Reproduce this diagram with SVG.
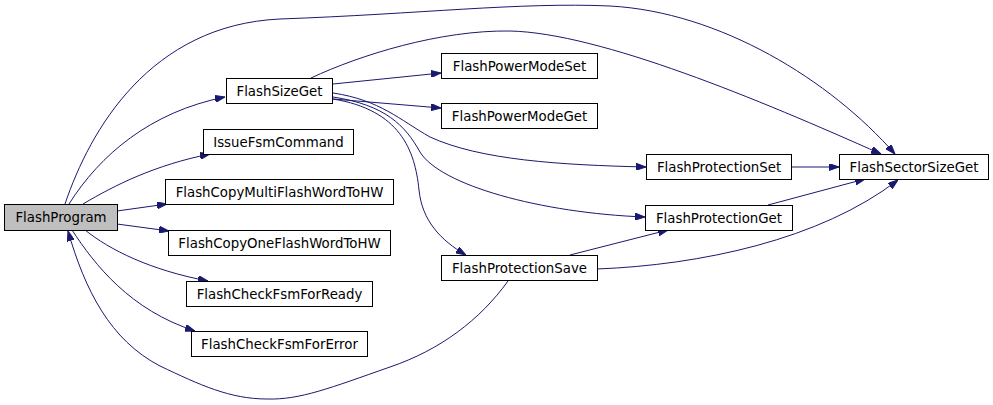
<svg xmlns="http://www.w3.org/2000/svg" width="993" height="405" viewBox="0 0 993 405">
<style>
.n rect{fill:#ffffff;stroke:#000000;stroke-width:1}
.n.cur rect{fill:#bfbfbf}
.n text{font-family:"DejaVu Sans","Liberation Sans",sans-serif;font-size:13.33px;fill:#000000;text-anchor:middle}
.e path{fill:none;stroke:#191970;stroke-width:1;marker-end:url(#ah)}
</style>
<defs>
<marker id="ah" viewBox="0 0 10 7" markerUnits="userSpaceOnUse" markerWidth="10" markerHeight="7" refX="10" refY="3.5" orient="auto">
<path d="M0,0 L10,3.5 L0,7 z" fill="#191970" stroke="#191970"/>
</marker>
</defs>
<rect width="993" height="405" fill="#ffffff"/>
<g id="edges" class="e">
<path d="M69,204 C100,155 150,112 225,97"/>
<path d="M83,204 C115,185 155,165 210,154"/>
<path d="M117,211 L167,204"/>
<path d="M117,224 L169,231"/>
<path d="M85,230 C110,250 150,270 208,281"/>
<path d="M72,230 C95,265 130,310 195,331"/>
<path d="M65,204 C90,130 150,25 280,19 C420,14 520,2 610,6 C720,12 830,80 895,154"/>
<path d="M311,78 C360,55 440,30 510,31 C600,33 760,100 881,154"/>
<path d="M333,84 L441,73"/>
<path d="M333,99 L441,108"/>
<path d="M333,93 C380,100 400,120 430,137 C480,160 560,165 646,167"/>
<path d="M333,97 C385,105 405,125 420,152 C440,185 540,213 645,217"/>
<path d="M333,99 C400,110 415,150 419,190 C422,220 440,240 466,255"/>
<path d="M791,167 L839,167"/>
<path d="M768,205 L865,179"/>
<path d="M570,255 L668,230"/>
<path d="M597,269 C700,265 820,240 898,180"/>
<path d="M508,281 C480,320 440,350 390,367 C330,388 300,400 267,399 C230,399 200,385 160,366 C110,340 85,290 68,231"/>
</g>
<g id="FlashProgram" class="n cur"><rect x="4.5" y="204.5" width="113" height="26"/><text x="61" y="222">FlashProgram</text></g>
<g id="FlashSizeGet" class="n"><rect x="226.5" y="78.5" width="106" height="25"/><text x="279.5" y="95.5">FlashSizeGet</text></g>
<g id="IssueFsmCommand" class="n"><rect x="203.5" y="129.5" width="150" height="25"/><text x="278.5" y="146.5">IssueFsmCommand</text></g>
<g id="FlashCopyMultiFlashWordToHW" class="n"><rect x="165.5" y="179.5" width="228" height="25"/><text x="279.5" y="196.5">FlashCopyMultiFlashWordToHW</text></g>
<g id="FlashCopyOneFlashWordToHW" class="n"><rect x="168.5" y="230.5" width="222" height="25"/><text x="279.5" y="247.5">FlashCopyOneFlashWordToHW</text></g>
<g id="FlashCheckFsmForReady" class="n"><rect x="186.5" y="281.5" width="186" height="25"/><text x="279.5" y="298.5">FlashCheckFsmForReady</text></g>
<g id="FlashCheckFsmForError" class="n"><rect x="191.5" y="331.5" width="176" height="25"/><text x="279.5" y="348.5">FlashCheckFsmForError</text></g>
<g id="FlashPowerModeSet" class="n"><rect x="441.5" y="53.5" width="156" height="25"/><text x="519.5" y="70.5">FlashPowerModeSet</text></g>
<g id="FlashPowerModeGet" class="n"><rect x="441.5" y="103.5" width="156" height="25"/><text x="519.5" y="120.5">FlashPowerModeGet</text></g>
<g id="FlashProtectionSet" class="n"><rect x="646.5" y="154.5" width="145" height="25"/><text x="719" y="171.5">FlashProtectionSet</text></g>
<g id="FlashSectorSizeGet" class="n"><rect x="839.5" y="154.5" width="149" height="25"/><text x="914" y="171.5">FlashSectorSizeGet</text></g>
<g id="FlashProtectionGet" class="n"><rect x="645.5" y="205.5" width="147" height="25"/><text x="719" y="222.5">FlashProtectionGet</text></g>
<g id="FlashProtectionSave" class="n"><rect x="441.5" y="255.5" width="156" height="25"/><text x="519.5" y="272.5">FlashProtectionSave</text></g>
</svg>
